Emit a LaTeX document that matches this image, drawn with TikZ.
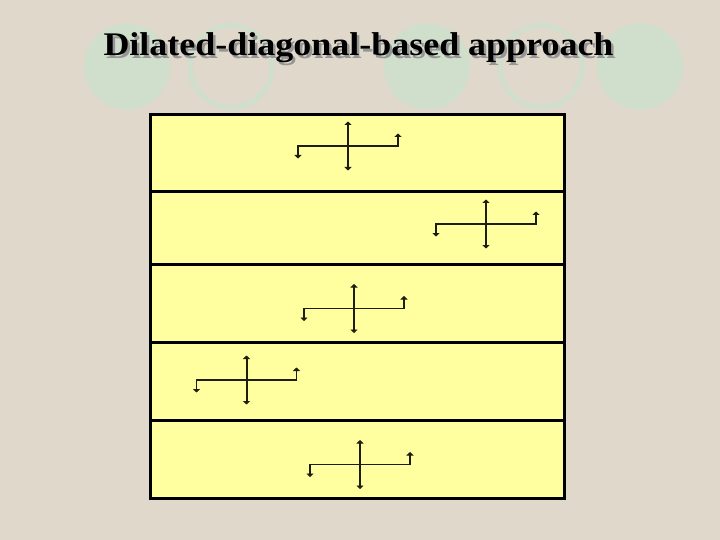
\documentclass[tikz,border=0pt]{standalone}
\usepackage{fontspec}
\setmainfont{Liberation Serif}
\usepackage{tikz}
\usetikzlibrary{arrows.meta}
\definecolor{slidebg}{RGB}{224,216,202}
\definecolor{disc}{RGB}{208,222,204}
\definecolor{bandfill}{RGB}{255,255,160}
\definecolor{shade}{RGB}{150,150,150}
\definecolor{ink}{RGB}{30,30,15}

\begin{document}
\begin{tikzpicture}[
  x=1pt, y=-1pt,
  disc/.style={fill=disc},
  ring/.style={draw=disc, line width=5pt},
  heading/.style={font=\fontsize{33}{40}\selectfont\bfseries, anchor=base, inner sep=0pt, xscale=1.09, transform shape},
  band/.style={fill=bandfill, draw=black, line width=3pt},
  zigzag/.style={draw=ink, line width=1.3pt, {Triangle[length=3.5pt,width=7pt]}-{Triangle[length=3.5pt,width=7pt]}},
  upright/.style={draw=ink, line width=2pt, {Triangle[length=3.5pt,width=7pt]}-{Triangle[length=3.5pt,width=7pt]}}
]
\useasboundingbox[fill=slidebg] (0,0) rectangle (720,540);
% circles behind the title
\foreach \cx in {127,427,640}
  \fill[disc] (\cx,66.5) circle (43);
\foreach \cx in {231,541}
  \draw[ring] (\cx,66.5) circle (41);
% title and its shadow
\node[heading, text=shade] (titleshadow) at (361,58.5) {Dilated-diagonal-based approach};
\node[heading] (title) at (358.5,55.7) {Dilated-diagonal-based approach};

% the five bands
\foreach \top/\bot in {114.5/192, 192/264, 264/342, 342/420.5, 420.5/498.5}
  \draw[band] (150.5,\top) rectangle (564.5,\bot);

% one shifted cross per band
\foreach \cx/\cy [count=\n] in {348/146, 486/224, 354/308.5, 246.5/380, 360/464.5} {
  \coordinate (c\n) at (\cx,\cy);
  \draw[zigzag] (\cx-50,\cy+12.5) -- (\cx-50,\cy) -- (\cx+50,\cy) -- (\cx+50,\cy-12.5);
  \draw[upright] (\cx,\cy+24.5) -- (\cx,\cy-24.5);
}
\end{tikzpicture}
\end{document}
